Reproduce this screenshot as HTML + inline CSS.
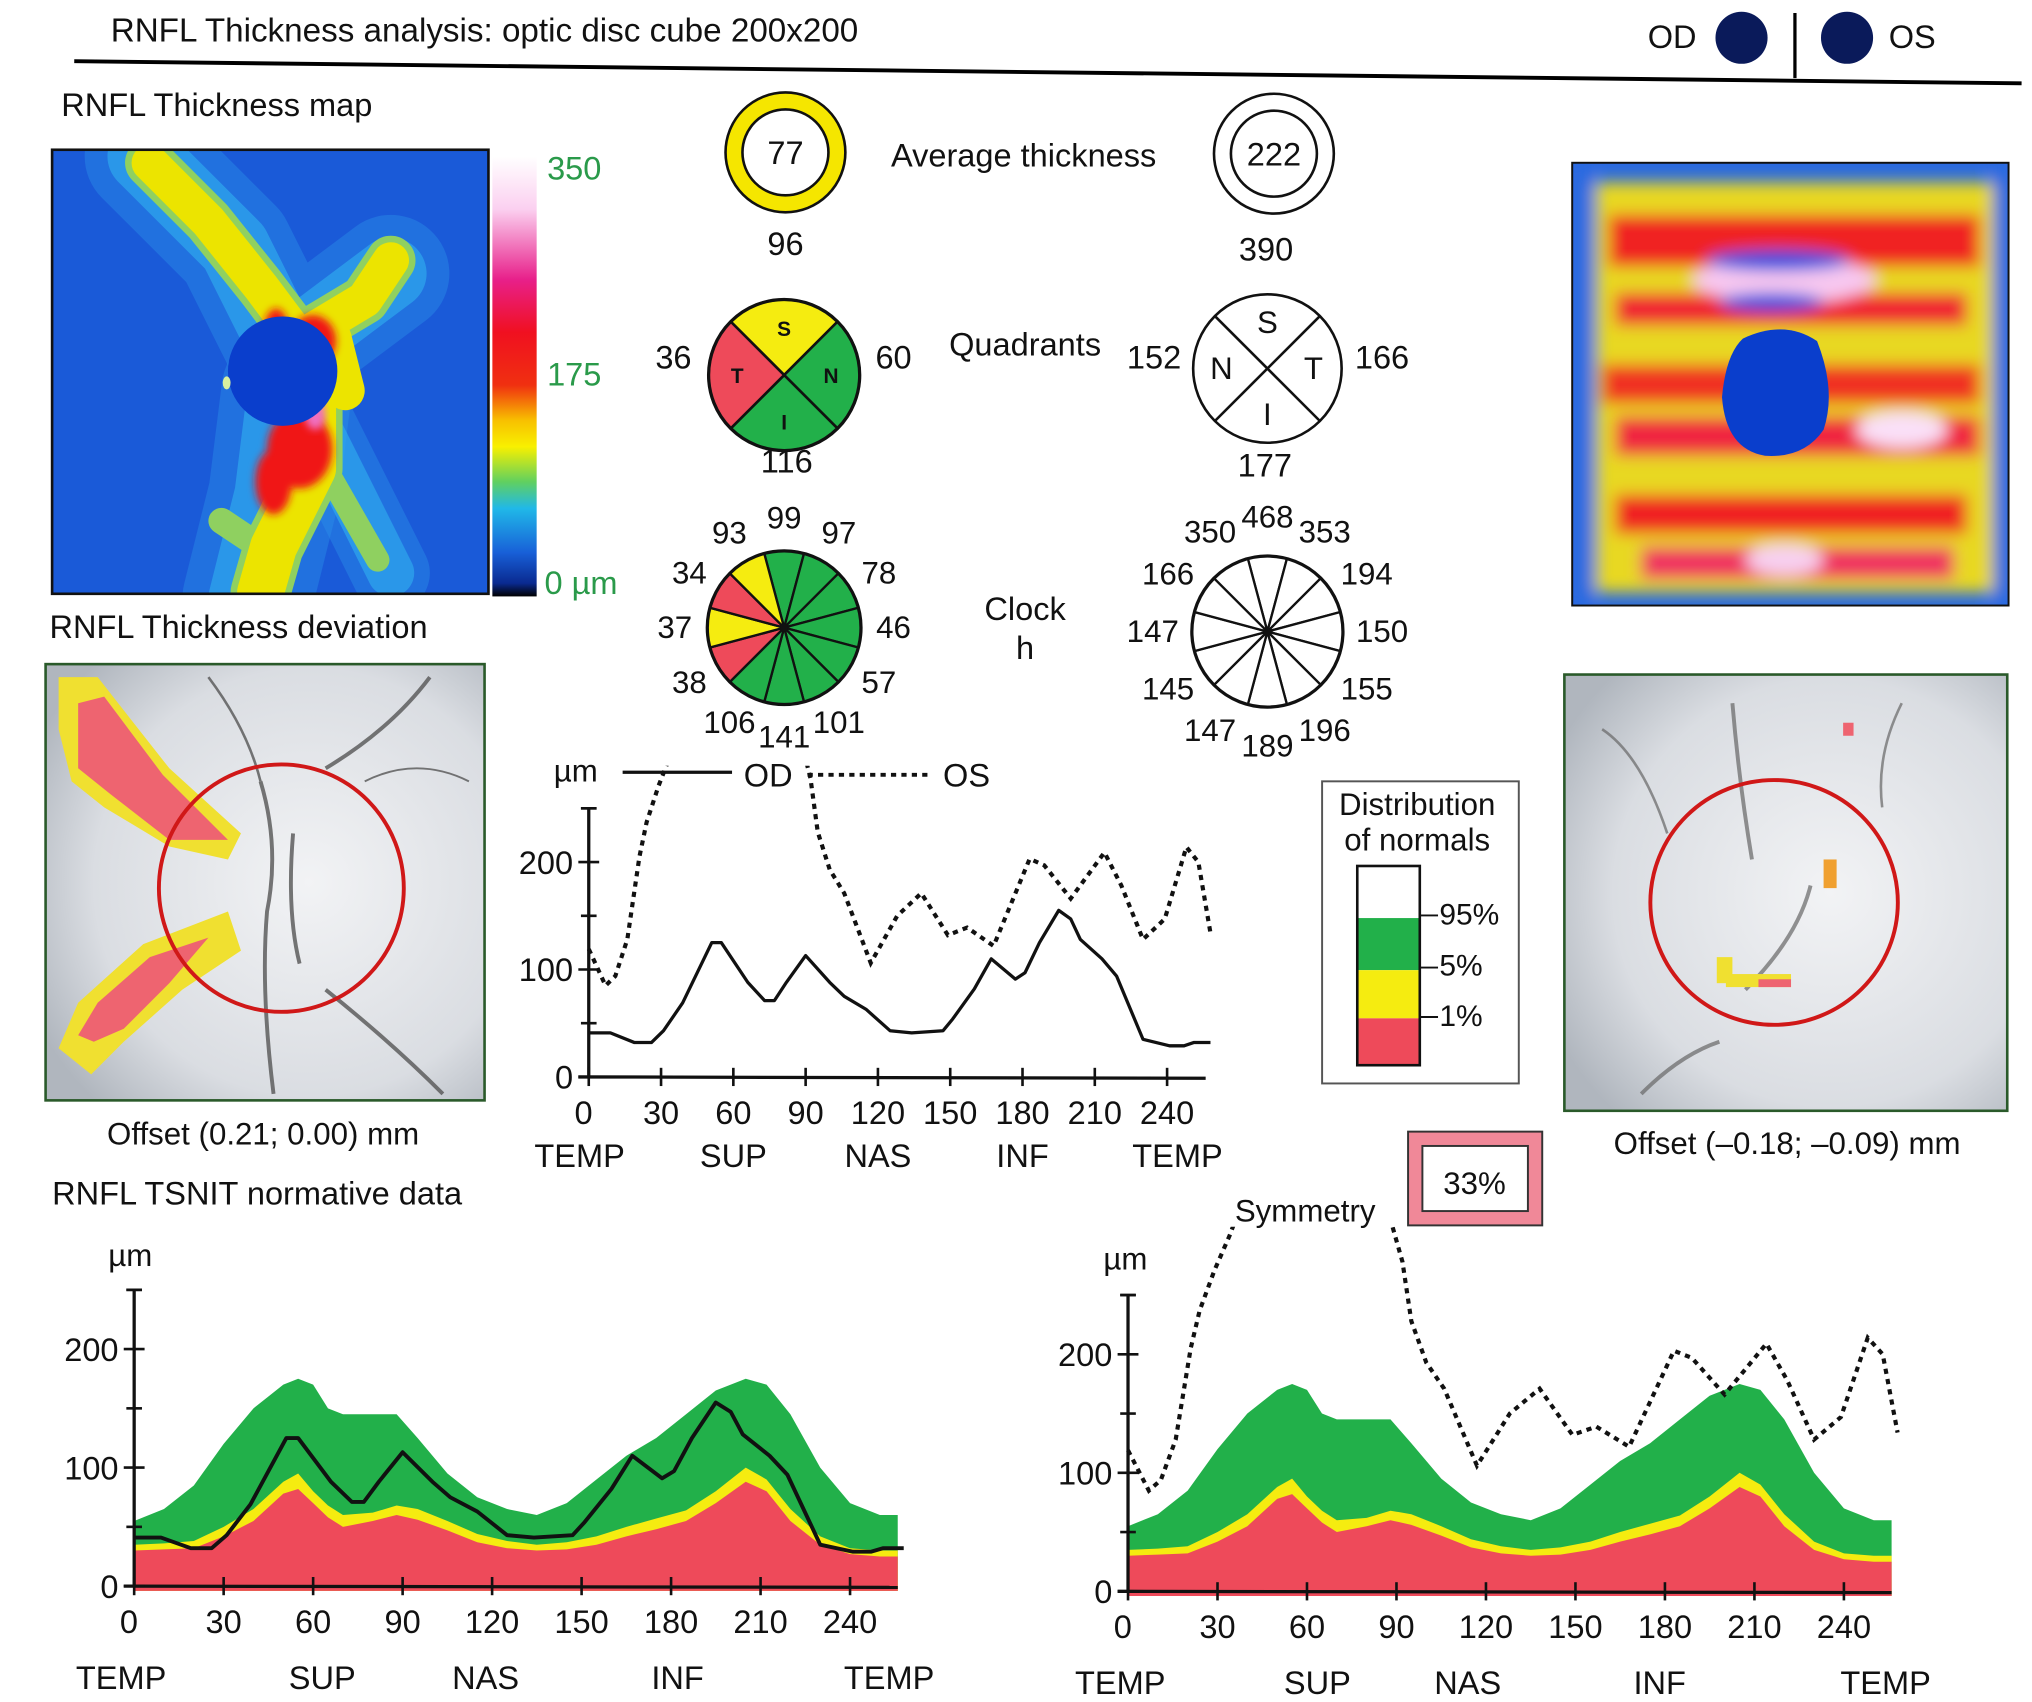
<!DOCTYPE html>
<html><head><meta charset="utf-8"><style>
html,body{margin:0;padding:0;background:#fff;}
svg{display:block;}
text{font-family:"Liberation Sans",sans-serif;fill:#111;}
</style></head><body>
<svg id="root" width="2032" height="1702" viewBox="0 0 1560 1307" preserveAspectRatio="none" xmlns="http://www.w3.org/2000/svg">
<defs>
<filter id="b6" x="-0.2" y="-0.2" width="1.4" height="1.4"><feGaussianBlur stdDeviation="6"/></filter>
<filter id="b3" x="-0.2" y="-0.2" width="1.4" height="1.4"><feGaussianBlur stdDeviation="3"/></filter>
<linearGradient id="cbar" x1="0" y1="0" x2="0" y2="1">
<stop offset="0" stop-color="#fff"/><stop offset="0.12" stop-color="#fbd0f0"/><stop offset="0.28" stop-color="#e8208a"/><stop offset="0.4" stop-color="#f01020"/><stop offset="0.52" stop-color="#f03010"/><stop offset="0.6" stop-color="#f8c000"/><stop offset="0.66" stop-color="#f8f000"/><stop offset="0.74" stop-color="#60d060"/><stop offset="0.8" stop-color="#20b8e8"/><stop offset="0.9" stop-color="#1860d8"/><stop offset="0.97" stop-color="#0a2a90"/><stop offset="1" stop-color="#000"/>
</linearGradient>
<radialGradient id="devbg" cx="0.6" cy="0.5" r="0.7"><stop offset="0" stop-color="#f2f3f5"/><stop offset="0.7" stop-color="#dadde2"/><stop offset="1" stop-color="#b0b6be"/></radialGradient>
<clipPath id="mapL"><rect x="40" y="115" width="335" height="341"/></clipPath>
<clipPath id="mapR"><rect x="1207" y="125" width="335" height="340"/></clipPath>
<clipPath id="devL"><rect x="35" y="510" width="337" height="335"/></clipPath>
<clipPath id="devR"><rect x="1201" y="518" width="340" height="335"/></clipPath>
<clipPath id="midClip"><rect x="430" y="588" width="520" height="260"/></clipPath>
<clipPath id="rClip"><rect x="850" y="942" width="640" height="300"/></clipPath>
</defs>

<!-- header -->
<text x="85" y="32" font-size="25.5">RNFL Thickness analysis: optic disc cube 200x200</text>
<line x1="57" y1="47" x2="1552" y2="64" stroke="#000" stroke-width="3"/>
<text x="1265" y="37" font-size="25">OD</text>
<circle cx="1337" cy="29" r="20" fill="#0a1a5a"/>
<line x1="1378" y1="10" x2="1378" y2="60" stroke="#000" stroke-width="2.5"/>
<circle cx="1418" cy="29" r="20" fill="#0a1a5a"/>
<text x="1450" y="37" font-size="25">OS</text>

<!-- left thickness map -->
<text x="47" y="89" font-size="25">RNFL Thickness map</text>
<g clip-path="url(#mapL)">
<rect x="40" y="115" width="335" height="341" fill="#1a5ad8"/>
<g fill="none" stroke-linecap="round" stroke-linejoin="round">
<polyline points="110,120 180,190 220,270 300,210" stroke="#2a8ee8" stroke-width="90" opacity="0.45"/>
<polyline points="220,300 210,380 190,460" stroke="#2a8ee8" stroke-width="100" opacity="0.45"/>
<polyline points="240,320 300,440" stroke="#2a8ee8" stroke-width="60" opacity="0.45"/>
<polyline points="110,120 180,190 220,270 300,210" stroke="#30b0f0" stroke-width="55" opacity="0.6"/>
<polyline points="220,300 210,380 190,460" stroke="#30b0f0" stroke-width="60" opacity="0.6"/>
<polyline points="240,320 300,440" stroke="#30b0f0" stroke-width="36" opacity="0.6"/>
<polyline points="115,125 160,170 200,220 230,260 280,230 300,200" stroke="#90d060" stroke-width="38"/>
<polyline points="240,300 240,360 210,420 200,455" stroke="#90d060" stroke-width="46"/>
<polyline points="250,360 290,430" stroke="#8fd060" stroke-width="18"/>
<polyline points="170,400 200,420" stroke="#8fd060" stroke-width="20"/>
<polyline points="115,125 160,170 200,220 230,260 280,230 300,200" stroke="#ece400" stroke-width="28"/>
<polyline points="255,260 265,300" stroke="#ece400" stroke-width="30"/>
<polyline points="240,300 240,360 210,420 200,455" stroke="#ece400" stroke-width="36"/>
</g>
<g filter="url(#b3)" fill="#f01818">
<ellipse cx="212" cy="257" rx="10" ry="20"/>
<ellipse cx="240" cy="262" rx="18" ry="20"/>
<ellipse cx="230" cy="345" rx="25" ry="30"/>
<ellipse cx="210" cy="370" rx="14" ry="25"/>
</g>
<ellipse cx="242" cy="318" rx="8" ry="12" fill="#f070c0" filter="url(#b3)"/>
<circle cx="217" cy="285" r="42" fill="#0a3ecc"/>
<ellipse cx="174" cy="294" rx="3" ry="5" fill="#d8f0a0"/>
</g>
<rect x="40" y="115" width="335" height="341" fill="none" stroke="#111" stroke-width="2"/>
<rect x="378" y="120" width="34" height="338" fill="url(#cbar)"/>
<text x="420" y="138" font-size="25" style="fill:#2a9a4a">350</text>
<text x="420" y="296" font-size="25" style="fill:#2a9a4a">175</text>
<text x="418" y="456" font-size="25" style="fill:#2a9a4a">0 µm</text>

<!-- right thickness map -->
<g clip-path="url(#mapR)">
<rect x="1207" y="125" width="335" height="340" fill="#2a6ae0"/>
<g filter="url(#b6)">
<rect x="1225" y="140" width="305" height="315" fill="#e8d820"/>
<rect x="1235" y="165" width="285" height="40" fill="#f02020"/>
<rect x="1240" y="225" width="270" height="25" fill="#f02030"/>
<rect x="1230" y="280" width="290" height="30" fill="#f03020"/>
<rect x="1240" y="320" width="280" height="30" fill="#f02840"/>
<rect x="1240" y="380" width="270" height="30" fill="#f02020"/>
<rect x="1260" y="420" width="240" height="25" fill="#f03060"/>
<ellipse cx="1370" cy="215" rx="70" ry="18" fill="#f8c8f0"/>
<ellipse cx="1460" cy="330" rx="35" ry="14" fill="#fae0f8"/>
<ellipse cx="1370" cy="430" rx="30" ry="12" fill="#f8d0f0"/>
<ellipse cx="1365" cy="200" rx="55" ry="8" fill="#2050e0"/>
<ellipse cx="1360" cy="232" rx="40" ry="7" fill="#2050e0"/>
<rect x="1200" y="125" width="22" height="340" fill="#2a6ae0"/>
<rect x="1530" y="125" width="20" height="340" fill="#2a6ae0"/>
</g>
<path d="M1338,260 Q1370,245 1395,262 Q1410,300 1400,330 Q1385,352 1355,350 Q1325,345 1322,305 Q1325,272 1338,260Z" fill="#0a3ecc"/>
</g>
<rect x="1207" y="125" width="335" height="340" fill="none" stroke="#111" stroke-width="1.5"/>

<!-- deviation maps -->
<text x="38" y="490" font-size="25">RNFL Thickness deviation</text>
<g clip-path="url(#devL)">
<rect x="35" y="510" width="337" height="335" fill="url(#devbg)"/>
<g fill="none" stroke="#555" stroke-width="3" opacity="0.8">
<path d="M200,600 Q215,650 205,700 Q200,760 210,840"/>
<path d="M225,640 Q220,700 230,740"/>
<path d="M250,590 Q300,560 330,520"/>
<path d="M250,760 Q300,800 340,840"/>
<path d="M160,520 Q190,560 200,600" stroke-width="2"/>
<path d="M280,600 Q320,580 360,600" stroke-width="1.5"/>
</g>
<polygon points="45,520 75,520 130,590 185,640 175,660 130,650 80,620 55,600 45,560" fill="#f0e030"/>
<polygon points="60,540 80,535 125,595 175,645 130,645 85,610 60,590" fill="#ee6470"/>
<polygon points="45,805 60,770 110,725 175,700 185,730 140,760 95,800 70,825" fill="#f0e030"/>
<polygon points="60,795 75,770 115,735 160,720 130,755 95,790 72,800" fill="#ee6470"/>
</g>
<rect x="35" y="510" width="337" height="335" fill="none" stroke="#2a5a2a" stroke-width="2"/>
<ellipse cx="216" cy="682" rx="94" ry="95" fill="none" stroke="#d01818" stroke-width="3"/>
<text x="202" y="879" font-size="24" text-anchor="middle">Offset (0.21; 0.00) mm</text>

<g clip-path="url(#devR)">
<rect x="1201" y="518" width="340" height="335" fill="url(#devbg)"/>
<g fill="none" stroke="#666" stroke-width="3" opacity="0.7">
<path d="M1330,540 Q1335,600 1345,660"/>
<path d="M1390,680 Q1380,720 1340,760"/>
<path d="M1230,560 Q1260,580 1280,640" stroke-width="2"/>
<path d="M1460,540 Q1440,580 1445,620" stroke-width="2"/>
<path d="M1260,840 Q1290,810 1320,800"/>
</g>
<rect x="1318" y="735" width="12" height="20" fill="#f0e030"/>
<rect x="1325" y="748" width="50" height="10" fill="#f0e030"/>
<rect x="1350" y="752" width="25" height="6" fill="#ee6470"/>
<rect x="1400" y="660" width="10" height="22" fill="#f0a030"/>
<rect x="1415" y="555" width="8" height="10" fill="#ee6470"/>
</g>
<rect x="1201" y="518" width="340" height="335" fill="none" stroke="#2a5a2a" stroke-width="2"/>
<ellipse cx="1362" cy="693" rx="95" ry="94" fill="none" stroke="#d01818" stroke-width="3"/>
<text x="1372" y="886" font-size="24" text-anchor="middle">Offset (–0.18; –0.09) mm</text>

<!-- average thickness -->
<g>
<circle cx="603" cy="117" r="46" fill="#f5e600" stroke="#111" stroke-width="2"/>
<circle cx="603" cy="117" r="33" fill="#fff" stroke="#111" stroke-width="2"/>
<text x="603" y="126" font-size="25" text-anchor="middle">77</text>
</g>
<text x="684" y="128" font-size="25">Average thickness</text>
<g>
<circle cx="978" cy="118" r="46" fill="#fff" stroke="#111" stroke-width="2"/>
<circle cx="978" cy="118" r="33" fill="#fff" stroke="#111" stroke-width="2"/>
<text x="978" y="127" font-size="25" text-anchor="middle">222</text>
</g>
<text x="603" y="196" font-size="25" text-anchor="middle">96</text>
<text x="972" y="200" font-size="25" text-anchor="middle">390</text>
<text x="787" y="273" font-size="25" text-anchor="middle">Quadrants</text>
<text x="787" y="476" font-size="25" text-anchor="middle">Clock</text>
<text x="787" y="506" font-size="25" text-anchor="middle">h</text>
<g id="pies"></g>

<!-- middle chart -->
<g id="mid"></g>

<!-- distribution legend -->
<g>
<rect x="1015" y="600" width="151" height="232" fill="#fff" stroke="#555" stroke-width="1.5"/>
<text x="1088" y="626" font-size="24" text-anchor="middle">Distribution</text>
<text x="1088" y="653" font-size="24" text-anchor="middle">of normals</text>
<rect x="1042" y="665" width="48" height="40" fill="#fff"/>
<rect x="1042" y="705" width="48" height="40" fill="#22b04a"/>
<rect x="1042" y="745" width="48" height="37" fill="#f5ec10"/>
<rect x="1042" y="782" width="48" height="36" fill="#ee4a5a"/>
<rect x="1042" y="665" width="48" height="153" fill="none" stroke="#111" stroke-width="2"/>
<line x1="1090" y1="703" x2="1104" y2="703" stroke="#111" stroke-width="1.5"/>
<line x1="1090" y1="743" x2="1104" y2="743" stroke="#111" stroke-width="1.5"/>
<line x1="1090" y1="781" x2="1104" y2="781" stroke="#111" stroke-width="1.5"/>
<text x="1105" y="710" font-size="23">95%</text>
<text x="1105" y="749" font-size="23">5%</text>
<text x="1105" y="788" font-size="23">1%</text>
</g>
<g>
<rect x="1081" y="869" width="103" height="72" fill="#f08898" stroke="#333" stroke-width="1.5"/>
<rect x="1092" y="880" width="81" height="50" fill="#fff" stroke="#333" stroke-width="1.5"/>
<text x="1132" y="917" font-size="24" text-anchor="middle">33%</text>
</g>
<text x="1002" y="938" font-size="24" text-anchor="middle">Symmetry</text>
<text x="40" y="925" font-size="25">RNFL TSNIT normative data</text>
<g id="left"></g>
<g id="right"></g>
</svg>
<script>
// ---- data ----
const clockHours = [0,1,2,3,4,5,6,7,8,9,10,11];
const odClockValues = [99,97,78,46,57,101,141,106,38,37,34,93];
const odClockClass = ['g','g','g','g','g','g','g','g','r','y','r','y'];
const osClockValues = [468,353,194,150,155,196,189,147,145,147,166,350];
const quadrantNames = ['S','N','I','T'];
const odQuadClass = ['y','g','g','r'];
const odQuadValues = [96,60,116,36];
const osQuadValues = [390,166,177,152];

const odX = [0,9,19,26,31,39,51,55,66,73,77,82,90,100,106,115,125,134,147,151,160,167,177,181,187,195,200,204,213,219,230,241,247,251,258];
const odY = [41,41,32,32,43,69,125,125,88,71,71,88,113,88,75,63,43,41,43,54,82,110,91,97,125,155,147,128,110,94,35,29,29,32,32];
const osX = [0,7,11,16,21,24,29,34,40,85,92,95,100,106,117,128,138,149,157,168,183,189,200,214,221,230,239,248,253,258];
const osY = [119,85,94,128,205,237,271,300,340,340,278,228,193,171,106,150,171,132,139,122,203,197,166,209,178,128,147,214,200,134];

const normX = [0,10,20,30,40,50,55,60,65,70,80,88,95,105,115,125,135,145,155,165,175,185,195,205,212,220,230,240,250,256];
const p95 = [55,65,85,120,150,170,175,170,150,145,145,145,125,95,75,65,60,70,90,110,125,145,165,175,170,145,100,70,60,60];
const p5  = [35,36,38,50,65,88,95,80,68,60,62,68,65,55,44,38,35,37,42,50,57,64,80,100,90,65,42,32,30,30];
const p1  = [30,31,32,42,55,78,82,70,58,50,55,60,56,47,37,32,30,31,35,42,48,55,70,88,80,55,35,27,25,25];

const xTicks = [0,30,60,90,120,150,180,210,240];
const yTicks = [0,100,200];
const yMinor = [50,150,250];
const regionLabels = ['TEMP','SUP','NAS','INF','TEMP'];
const regionPos = [0,60,120,180,240];

const NS='http://www.w3.org/2000/svg';
function mk(parent,tag,attrs,txt){const e=document.createElementNS(NS,tag);for(const k in attrs)e.setAttribute(k,attrs[k]);if(txt!==undefined)e.textContent=txt;parent.appendChild(e);return e;}
const colors={g:'#22b04a',y:'#f5ec10',r:'#ee4a5a',w:'#fff'};
function pt(cx,cy,r,a){const t=a*Math.PI/180;return [cx+r*Math.sin(t),cy-r*Math.cos(t)];}
function sector(cx,cy,r,a0,a1){const p0=pt(cx,cy,r,a0),p1=pt(cx,cy,r,a1);return `M${cx},${cy}L${p0[0]},${p0[1]}A${r},${r} 0 0 1 ${p1[0]},${p1[1]}Z`;}

const pies=document.getElementById('pies');
(function(){
 const cx=602,cy=288,r=58;
 const g=mk(pies,'g',{});
 
 
 quadrantNames.forEach((n,i)=>{
  const p=mk(g,'path',{d:sector(cx,cy,r,i*90-45,i*90+45),fill:colors[odQuadClass[i]],stroke:'#111','stroke-width':2});
  
  
  const lp=pt(cx,cy,r*0.62,i*90);
  const t=mk(g,'text',{x:lp[0],y:lp[1]+6,'font-size':16,'font-weight':'bold','text-anchor':'middle'},n);
  
  
 });
 mk(g,'circle',{cx,cy,r,fill:'none',stroke:'#111','stroke-width':2.5});
})();
(function(){
 const cx=973,cy=283,r=57;
 const g=mk(pies,'g',{});
 
 
 mk(g,'circle',{cx,cy,r,fill:'#fff',stroke:'#111','stroke-width':2});
 [45,135].forEach(a=>{const p=pt(cx,cy,r,a),q=pt(cx,cy,r,a+180);mk(g,'line',{x1:p[0],y1:p[1],x2:q[0],y2:q[1],stroke:'#111','stroke-width':2});});
 const osLetters=['S','T','I','N'];
 osLetters.forEach((n,i)=>{const lp=pt(cx,cy,r*0.62,i*90);const t=mk(g,'text',{x:lp[0],y:lp[1]+8,'font-size':24,'text-anchor':'middle'},n);
  
  });
})();
[[odQuadValues[1],686,283],[odQuadValues[2],604,363],[odQuadValues[3],517,283],
 [osQuadValues[1],1061,283],[osQuadValues[2],971,366],[osQuadValues[3],886,283]].forEach(v=>{
 const t=mk(pies,'text',{x:v[1],y:v[2],'font-size':25,'text-anchor':'middle'},v[0]);
 
 
});
function clock(cx,cy,r,vals,cls,name,labelR){
 const g=mk(pies,'g',{});
 
 
 clockHours.forEach(h=>{
  const p=mk(g,'path',{d:sector(cx,cy,r,h*30-15,h*30+15),fill:cls?colors[cls[h]]:'#fff',stroke:'#111','stroke-width':1.8});
  
  
  const lp=pt(cx,cy,labelR,h*30);
  const t=mk(g,'text',{x:lp[0],y:lp[1]+8,'font-size':24,'text-anchor':'middle'},vals[h]);
  
  
 });
 mk(g,'circle',{cx,cy,r,fill:'none',stroke:'#111','stroke-width':2.5});
 mk(g,'circle',{cx,cy,r:3,fill:'#111'});
}
clock(602,482,59,odClockValues,odClockClass,'od-clock-chart',84);
clock(973,485,58,osClockValues,null,'os-clock-chart',88);

function chart(root,opt){
 const X=v=>opt.x0+v*opt.sx, Y=v=>opt.y0-v*opt.sy;
 const line=(xs,ys)=>xs.map((x,i)=>(i?'L':'M')+X(x).toFixed(1)+','+Y(ys[i]).toFixed(1)).join('');
 const area=(xs,ys)=>line(xs,ys)+`L${X(xs[xs.length-1])},${Y(-4)}L${X(xs[0])},${Y(-4)}Z`;
 if(opt.bands){
  [[p95,'#22b04a','band-95'],[p5,'#f5ec10','band-5'],[p1,'#ee4a5a','band-1']].forEach(b=>{
   const p=mk(root,'path',{d:area(normX,b[0]),fill:b[1]});
   
   
  });
 }
 const ya=mk(root,'line',{x1:X(0),y1:Y(0),x2:X(0),y2:Y(opt.ymax),stroke:'#111','stroke-width':2.5});
 
 
 mk(root,'line',{x1:X(0)-6,y1:Y(opt.ymax),x2:X(0)+6,y2:Y(opt.ymax),stroke:'#111','stroke-width':2});
 const xa=mk(root,'line',{x1:X(0)-8,y1:Y(0),x2:X(256),y2:Y(0)+1,stroke:'#111','stroke-width':2.5});
 
 
 yTicks.forEach(v=>{
  mk(root,'line',{x1:X(0)-8,y1:Y(v),x2:X(0)+8,y2:Y(v),stroke:'#111','stroke-width':2});
  const t=mk(root,'text',{x:X(0)-12,y:Y(v)+9,'font-size':25,'text-anchor':'end'},v);
  
  
 });
 yMinor.forEach(v=>{if(v<=opt.ymax)mk(root,'line',{x1:X(0)-6,y1:Y(v),x2:X(0)+6,y2:Y(v),stroke:'#111','stroke-width':2});});
 xTicks.forEach(v=>{
  mk(root,'line',{x1:X(v),y1:Y(0)-7,x2:X(v),y2:Y(0)+7,stroke:'#111','stroke-width':2});
  const t=mk(root,'text',{x:X(v)-(v===0?4:0),y:Y(0)+36,'font-size':25,'text-anchor':'middle'},v);
  
  
 });
 regionLabels.forEach((s,i)=>{
  const t=mk(root,'text',{x:X(regionPos[i])+opt.regOff[i],y:Y(0)+opt.regDy,'font-size':25,'text-anchor':'middle'},s);
  
  
 });
 const um=mk(root,'text',{x:opt.umX,y:opt.umY,'font-size':24,'text-anchor':'middle'},'µm');
 
 
 const cg=mk(root,'g',{'clip-path':opt.clip});
 if(opt.od){
  const p=mk(cg,'path',{d:line(odX,odY),fill:'none',stroke:'#111','stroke-width':opt.odw,'stroke-linejoin':'round'});
  
  
 }
 if(opt.os){
  const p=mk(cg,'path',{d:line(osX,osY),fill:'none',stroke:'#111','stroke-width':3.2,'stroke-dasharray':'4 4'});
  
  
 }
}
const mid=document.getElementById('mid');
chart(mid,{x0:452,y0:827,sx:1.85,sy:0.825,ymax:250,od:true,os:true,odw:2.5,clip:'url(#midClip)',regOff:[-7,0,0,0,8],regDy:69,umX:442,umY:600});
mk(mid,'line',{x1:478,y1:593,x2:562,y2:593,stroke:'#111','stroke-width':2.5});
mk(mid,'text',{x:571,y:604,'font-size':25},'OD');
mk(mid,'line',{x1:620,y1:595,x2:715,y2:595,stroke:'#111','stroke-width':3,'stroke-dasharray':'4 4'});
mk(mid,'text',{x:724,y:604,'font-size':25},'OS');
chart(document.getElementById('left'),{x0:103,y0:1218,sx:2.29,sy:0.91,ymax:250,bands:true,od:true,os:false,odw:3,clip:'',regOff:[-10,7,-5,5,30],regDy:79,umX:100,umY:972});
chart(document.getElementById('right'),{x0:866,y0:1222,sx:2.29,sy:0.91,ymax:250,bands:true,od:false,os:true,clip:'url(#rClip)',regOff:[-6,8,-14,-4,32],regDy:79,umX:864,umY:975});
</script>
</body></html>
